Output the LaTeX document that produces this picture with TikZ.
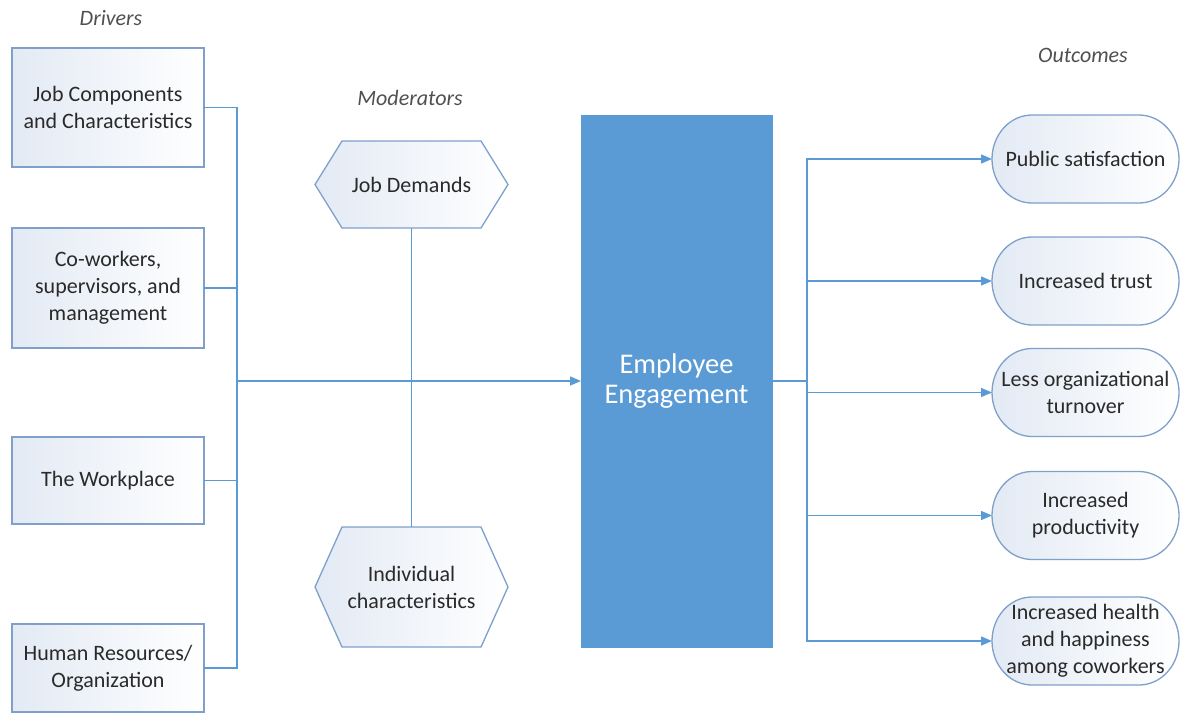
\documentclass[tikz,border=0pt]{standalone}
\usepackage{fontspec}
\setmainfont{Carlito}
\usetikzlibrary{arrows.meta,backgrounds}
\definecolor{linec}{HTML}{5B9BD5}
\definecolor{borderc}{HTML}{7EA0CB}
\definecolor{tintc}{HTML}{E3EAF4}
\definecolor{txtc}{HTML}{2A2A2A}
\definecolor{lblc}{HTML}{505050}
\definecolor{eefill}{HTML}{5B9BD5}
\begin{document}
\begin{tikzpicture}[x=1pt,y=-1pt,
  txt/.style={text=txtc, font=\fontsize{22}{27}\selectfont, align=center, inner sep=0pt, outer sep=0pt},
  driver/.style={txt, draw=borderc, line width=1.3pt, left color=tintc, right color=white, minimum width=192pt},
  hexnode/.style={txt, minimum width=193pt},
  outnode/.style={txt, minimum width=187pt, minimum height=88pt},
  shapeline/.style={draw=borderc, line width=1.3pt, left color=tintc, right color=white},
  conn/.style={draw=linec, line width=1.4pt},
  arr/.style={conn, -{Triangle[length=11pt,width=9pt]}},
  lbl/.style={text=lblc, font=\itshape\fontsize{22}{27}\selectfont, inner sep=0pt}
]
\useasboundingbox (0,0) rectangle (1180,713);

% labels
\node[lbl] (drv) at (111,18) {Drivers};
\node[lbl] (mod) at (410,98) {Moderators};
\node[lbl] (out) at (1083,55) {Outcomes};

% drivers
\node[driver, minimum height=119pt] (d1) at (108,107.5) {Job Components\\and Characteristics};
\node[driver, minimum height=120pt] (d2) at (108,288) {Co-workers,\\supervisors, and\\management};
\node[driver, minimum height=87pt] (d3) at (108,480.5) {The Workplace};
\node[driver, minimum height=88pt] (d4) at (108,668) {Human Resources/\\Organization};

% moderators
\node[hexnode, minimum height=87pt] (jd) at (411.5,184.5) {Job Demands};
\node[hexnode, minimum height=120pt] (ic) at (411.5,587) {Individual\\characteristics};

% centre
\node[txt, fill=eefill, draw=eefill, text=white, font=\fontsize{28.5}{30}\selectfont, minimum width=191pt, minimum height=532pt] (ee) at (676.5,381) {Employee\\Engagement};

% outcomes
\node[outnode] (o1) at (1085.5,159) {Public satisfaction};
\node[outnode] (o2) at (1085.5,281) {Increased trust};
\node[outnode] (o3) at (1085.5,392.5) {Less organizational\\turnover};
\node[outnode] (o4) at (1085.5,515.5) {Increased\\productivity};
\node[outnode] (o5) at (1085.5,641) {Increased health\\and happiness\\among coworkers};

\begin{scope}[on background layer]
\foreach \n in {jd,ic}
  \path[shapeline] (\n.west) -- ([xshift=27pt]\n.north west) -- ([xshift=-27pt]\n.north east) -- (\n.east) -- ([xshift=-27pt]\n.south east) -- ([xshift=27pt]\n.south west) -- cycle;
\foreach \n in {o1,o2,o3,o4,o5}
  \path[shapeline] (\n.west) arc[start angle=180,end angle=90,x radius=40pt,y radius=44pt] -- ([xshift=-40pt]\n.north east) arc[start angle=90,end angle=-90,x radius=40pt,y radius=44pt] -- ([xshift=40pt]\n.south west) arc[start angle=270,end angle=180,x radius=40pt,y radius=44pt] -- cycle;
\end{scope}

% connectors
\coordinate (jL) at (237,381);
\foreach \n in {d1,d2,d3,d4} \draw[conn] (\n.east) -| (jL);
\draw[arr] (jL) -- (ee.west);
\draw[conn] (jd.south) -- (ic.north);
\coordinate (jR) at (807,381);
\draw[conn] (ee.east) -- (jR);
\foreach \n in {o1,o2,o3,o4,o5} \draw[arr] (jR) |- (\n.west);
\end{tikzpicture}
\end{document}
